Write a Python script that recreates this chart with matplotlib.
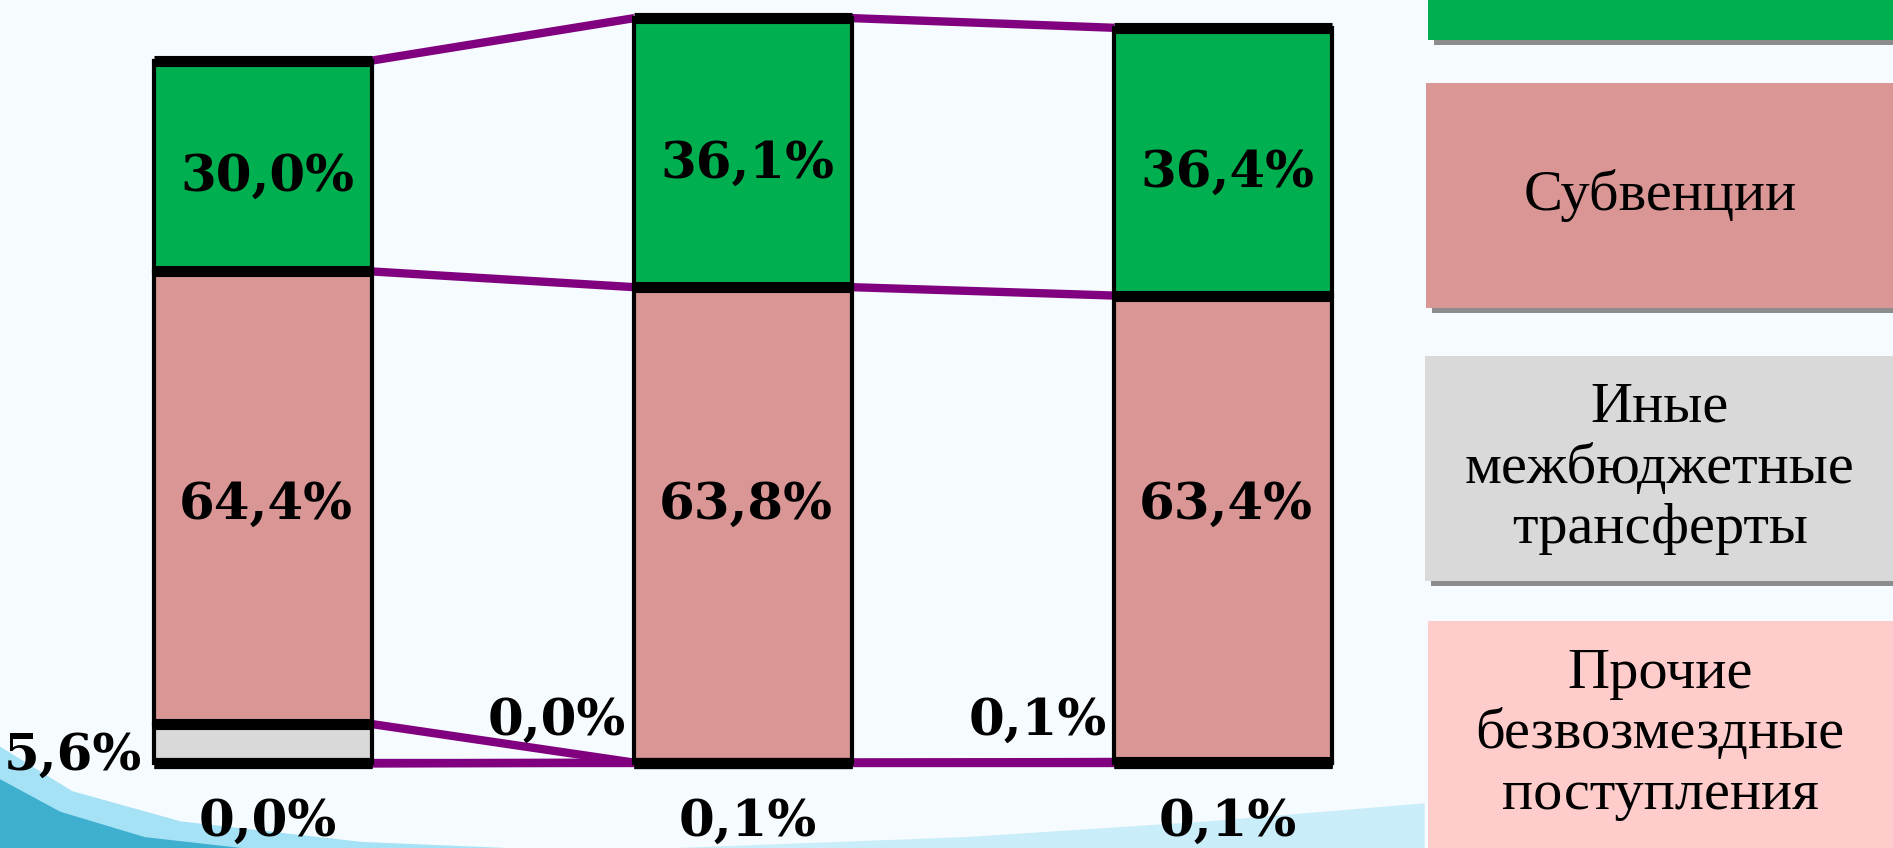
import matplotlib
matplotlib.use("Agg")
import matplotlib.pyplot as plt
from matplotlib.patches import Rectangle, Polygon
import numpy as np

# shares of each year's total, % (label values)
years = [0, 1, 2]
share_dotacii = [30.0, 36.1, 36.4]
share_subv = [64.4, 63.8, 63.4]
share_inye = [5.6, 0.0, 0.1]
share_prochie = [0.0, 0.1, 0.1]
# relative size of each year's total (bar heights, middle bar = 100)
totals = [94.3, 100.0, 98.7]

legend_labels = ["Субвенции",
                 "Иные\nмежбюджетные\nтрансферты",
                 "Прочие\nбезвозмездные\nпоступления"]

c_green = "#00B050"
c_pink = "#D99694"
c_gray = "#D9D9D9"
c_lpink = "#FFCCCC"
c_purple = "#800080"
bg = "#F5FBFE"

W, H = 1893, 848
fig = plt.figure(figsize=(W / 100, H / 100), dpi=100, facecolor=bg)


def fx(x):
    return x / 1568.0


def fy(y):
    return 1 - y / 702.0


# background swoosh decoration
fig.patches.append(Polygon([(0, fy(618)), (fx(60), fy(655)), (fx(150), fy(680)),
                            (fx(300), fy(697)), (fx(420), fy(702)), (0, 0)],
                           closed=True, transform=fig.transFigure,
                           facecolor="#A6E2F5", edgecolor="none", zorder=0))
fig.patches.append(Polygon([(0, fy(645)), (fx(50), fy(672)), (fx(120), fy(693)),
                            (fx(200), fy(702)), (0, 0)],
                           closed=True, transform=fig.transFigure,
                           facecolor="#3FAFD0", edgecolor="none", zorder=0))
fig.patches.append(Polygon([(fx(560), 0), (fx(800), fy(693)), (fx(1000), fy(680)),
                            (fx(1180), fy(665)), (fx(1180), 0)],
                           closed=True, transform=fig.transFigure,
                           facecolor="#C9EDF9", edgecolor="none", zorder=0))

ax = fig.add_axes([0, 0, 1, 1])
ax.set_zorder(5)
ax.set_facecolor("none")
ax.set_xlim(-0.548, 3.396)
ax.set_ylim(-11.35, 102.43)
ax.axis("off")

w = 0.453
tot = np.array(totals)
segs = [np.array(share_prochie), np.array(share_inye),
        np.array(share_subv), np.array(share_dotacii)]
heights = [tot * s / 100 for s in segs]
colors = [c_lpink, c_gray, c_pink, c_green]

bottom = np.zeros(3)
levels = [bottom.copy()]
for h, c in zip(heights, colors):
    ax.bar(years, h, w, bottom=bottom, color=c, edgecolor="black",
           linewidth=3, zorder=3)
    bottom = bottom + h
    levels.append(bottom.copy())

# thick black segment borders
for lev in levels:
    for i in years:
        ax.hlines(lev[i], i - w / 2, i + w / 2, color="black", linewidth=8, zorder=4)

# series lines between bars
for lev in levels:
    for i in range(len(years) - 1):
        ax.plot([i + w / 2, i + 1 - w / 2], [lev[i], lev[i + 1]],
                color=c_purple, linewidth=6, zorder=2, solid_capstyle="butt")


def fmt(v):
    return ("%.1f" % v).replace(".", ",") + "%"


lab = dict(fontsize=37, fontweight="bold", family="DejaVu Serif", color="black", zorder=5)
for i in years:
    gc = (levels[3][i] + levels[4][i]) / 2
    ax.text(i + 0.01, gc - 1.5, fmt(share_dotacii[i]), ha="center", va="center", **lab)
    ax.text(i + 0.005, 34.7, fmt(share_subv[i]), ha="center", va="center", **lab)
    ax.text(i + 0.01, -7.9, fmt(share_prochie[i]), ha="center", va="center", **lab)

gray_y = [0.9, 5.6, 5.6]
gray_gap = [0.025, 0.018, 0.016]
for i in years:
    ax.text(i - w / 2 - gray_gap[i], gray_y[i], fmt(share_inye[i]),
            ha="right", va="center", **lab)

# legend boxes on the right
boxes = [(1183, 0, 33, c_green, None),
         (1181, 69, 255, c_pink, legend_labels[0]),
         (1180, 295, 481, c_gray, legend_labels[1]),
         (1183, 514, 702, c_lpink, legend_labels[2])]
for x0, y0, y1, col, txt in boxes:
    fig.patches.append(Rectangle((fx(x0 + 5), fy(y1 + 4)), 1 - fx(x0 + 5), (y1 - y0) / 702.0,
                                 transform=fig.transFigure, facecolor="#8C8C8C",
                                 edgecolor="none", zorder=1))
    fig.patches.append(Rectangle((fx(x0), fy(y1)), 1 - fx(x0), (y1 - y0) / 702.0,
                                 transform=fig.transFigure, facecolor=col,
                                 edgecolor="none", zorder=2))
    if txt:
        fig.text(fx(1375), fy((y0 + y1) / 2), txt, ha="center", va="center",
                 fontsize=42, family="Liberation Serif", linespacing=1.22, zorder=3)

fig.savefig("out.png", dpi=100, facecolor=bg)
